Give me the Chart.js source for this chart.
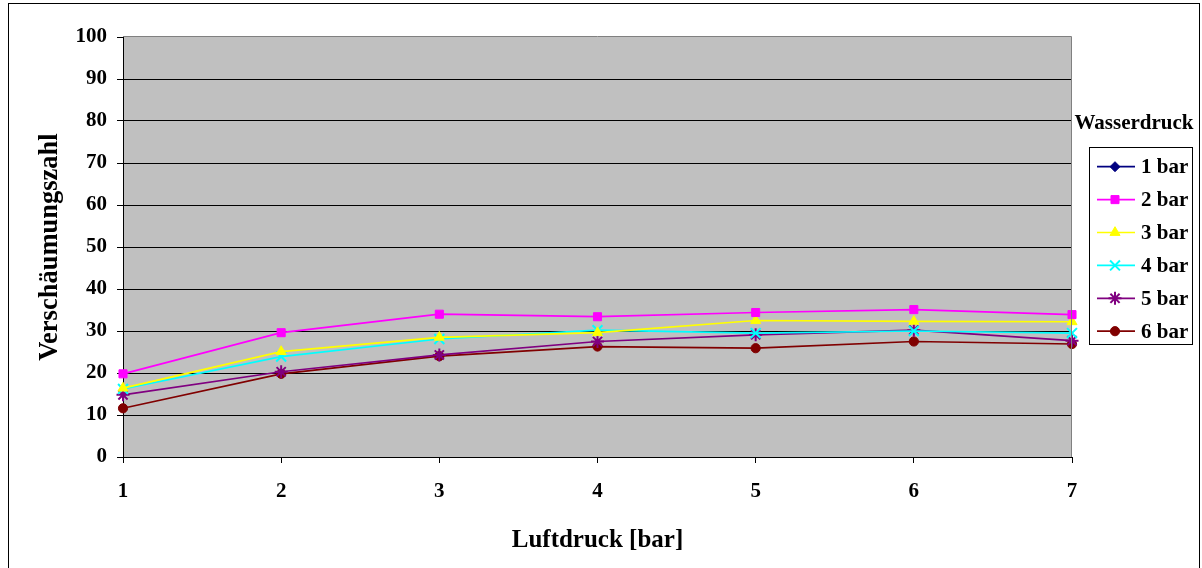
<!DOCTYPE html>
<html>
<head>
<meta charset="utf-8">
<script src="https://cdn.jsdelivr.net/npm/chart.js@4.4.1/dist/chart.umd.min.js"></script>
<style>
html,body{margin:0;padding:0;background:#fff;}
#wrap{width:1202px;height:568px;position:relative;}
</style>
</head>
<body>
<div id="wrap"><canvas id="c" width="1202" height="568"></canvas></div>
<script>
const categories = ['1','2','3','4','5','6','7'];
const seriesNames = ['1 bar','2 bar','3 bar','4 bar','5 bar','6 bar'];
const bar1 = [null,null,null,null,null,null,null];
const bar2 = [19.8,29.6,34.0,33.4,34.4,35.1,33.9];
const bar3 = [16.4,25.1,28.5,29.6,32.5,32.3,32.2];
const bar4 = [16.2,23.9,28.1,30.2,29.5,30.0,29.5];
const bar5 = [14.8,20.3,24.3,27.5,29.1,30.2,27.7];
const bar6 = [11.6,19.8,24.0,26.3,25.9,27.5,26.9];
const yTicks = [0,10,20,30,40,50,60,70,80,90,100];
const legendTitle = 'Wasserdruck';
const xTitle = 'Luftdruck [bar]';
const yTitle = 'Verschäumungszahl';

const colors = ['#000080','#FF00FF','#FFFF00','#00FFFF','#800080','#800000'];
const markers = ['rectRot','rect','triangle','crossRot','star','circle'];
const radii = [5,5.7,5.8,7,6.5,4.6];
const allData = [bar1,bar2,bar3,bar4,bar5,bar6];
const FONT = "'Liberation Serif','Times New Roman',serif";

const datasets = allData.map((d,i)=>({
  label: seriesNames[i],
  data: d,
  borderColor: colors[i],
  backgroundColor: colors[i],
  pointStyle: markers[i],
  pointRadius: radii[i],
  pointHoverRadius: radii[i],
  pointBorderColor: colors[i],
  pointBackgroundColor: colors[i],
  pointBorderWidth: (markers[i]==='crossRot'||markers[i]==='star') ? 2 : 1,
  borderWidth: 1.7,
  tension: 0,
  spanGaps: false
}));

const decor = {
  id: 'decor',
  beforeDraw(chart){
    const ctx = chart.ctx, a = chart.chartArea;
    ctx.save();
    ctx.fillStyle = '#fff';
    ctx.fillRect(0,0,chart.width,chart.height);
    ctx.fillStyle = '#C0C0C0';
    ctx.fillRect(a.left,a.top,a.right-a.left,a.bottom-a.top);
    ctx.restore();
  },
  afterDatasetsDraw(chart){
    const ctx = chart.ctx, a = chart.chartArea;
    ctx.save();
    ctx.strokeStyle = '#808080';
    ctx.lineWidth = 1;
    ctx.beginPath();
    ctx.moveTo(a.left, a.top-0.5);
    ctx.lineTo(a.right-0.5, a.top-0.5);
    ctx.lineTo(a.right-0.5, a.bottom);
    ctx.stroke();
    // outer chart border
    ctx.strokeStyle = '#000';
    ctx.strokeRect(8.5,3.5,1191,600);
    // legend
    ctx.fillStyle = '#000';
    ctx.font = 'bold 21px ' + FONT;
    ctx.textAlign = 'center';
    ctx.textBaseline = 'middle';
    ctx.fillText(legendTitle, 1134, 124);
    ctx.strokeRect(1089.5,147.5,103,197);
    const h = Chart.helpers;
    chart.data.datasets.forEach((ds,i)=>{
      const y = 166.7 + i*32.9;
      ctx.strokeStyle = ds.borderColor;
      ctx.lineWidth = 1.7;
      ctx.beginPath();
      ctx.moveTo(1097, y);
      ctx.lineTo(1135, y);
      ctx.stroke();
      ctx.fillStyle = ds.pointBackgroundColor;
      ctx.strokeStyle = ds.pointBorderColor;
      ctx.lineWidth = ds.pointBorderWidth;
      h.drawPoint(ctx, {pointStyle: ds.pointStyle, radius: ds.pointRadius, rotation: 0, borderWidth: ds.pointBorderWidth}, 1115, y);
      ctx.fillStyle = '#000';
      ctx.textAlign = 'left';
      ctx.font = 'bold 21px ' + FONT;
      ctx.fillText(ds.label, 1141, y+1);
    });
    ctx.restore();
  }
};

new Chart(document.getElementById('c'), {
  type: 'line',
  data: { labels: categories, datasets },
  plugins: [decor],
  options: {
    responsive: false,
    animation: false,
    events: [],
    layout: { padding: { left: 0, top: 37, right: 130, bottom: 0 } },
    plugins: { legend: { display: false }, tooltip: { enabled: false } },
    scales: {
      x: {
        type: 'category',
        offset: false,
        afterFit(s){ s.height = 111; },
        grid: { display: true, drawOnChartArea: false, drawTicks: true, tickLength: 6, color: '#000', tickColor: '#000' },
        border: { display: true, color: '#000', width: 1 },
        ticks: { color: '#000', font: { family: FONT, size: 21, weight: 'bold' }, padding: 16, maxRotation: 0 },
        title: { display: true, text: xTitle, color: '#000', font: { family: FONT, size: 25, weight: 'bold' }, padding: { top: 0, bottom: 12 } }
      },
      y: {
        min: 0, max: 100,
        afterFit(s){ s.width = 123; },
        afterBuildTicks(s){ s.ticks = yTicks.map(v=>({value:v})); },
        grid: { display: true, drawOnChartArea: true, drawTicks: true, tickLength: 6,
          color: (c)=> c.tick && c.tick.value===100 ? 'rgba(0,0,0,0)' : '#000', tickColor: '#000', lineWidth: 1 },
        border: { display: true, color: '#000', width: 1 },
        ticks: { color: '#000', font: { family: FONT, size: 21, weight: 'bold' }, padding: 10 },
        title: { display: true, text: yTitle, color: '#000', font: { family: FONT, size: 26.5, weight: 'bold' }, padding: { top: 34, bottom: 0 } }
      }
    }
  }
});
</script>
</body>
</html>
